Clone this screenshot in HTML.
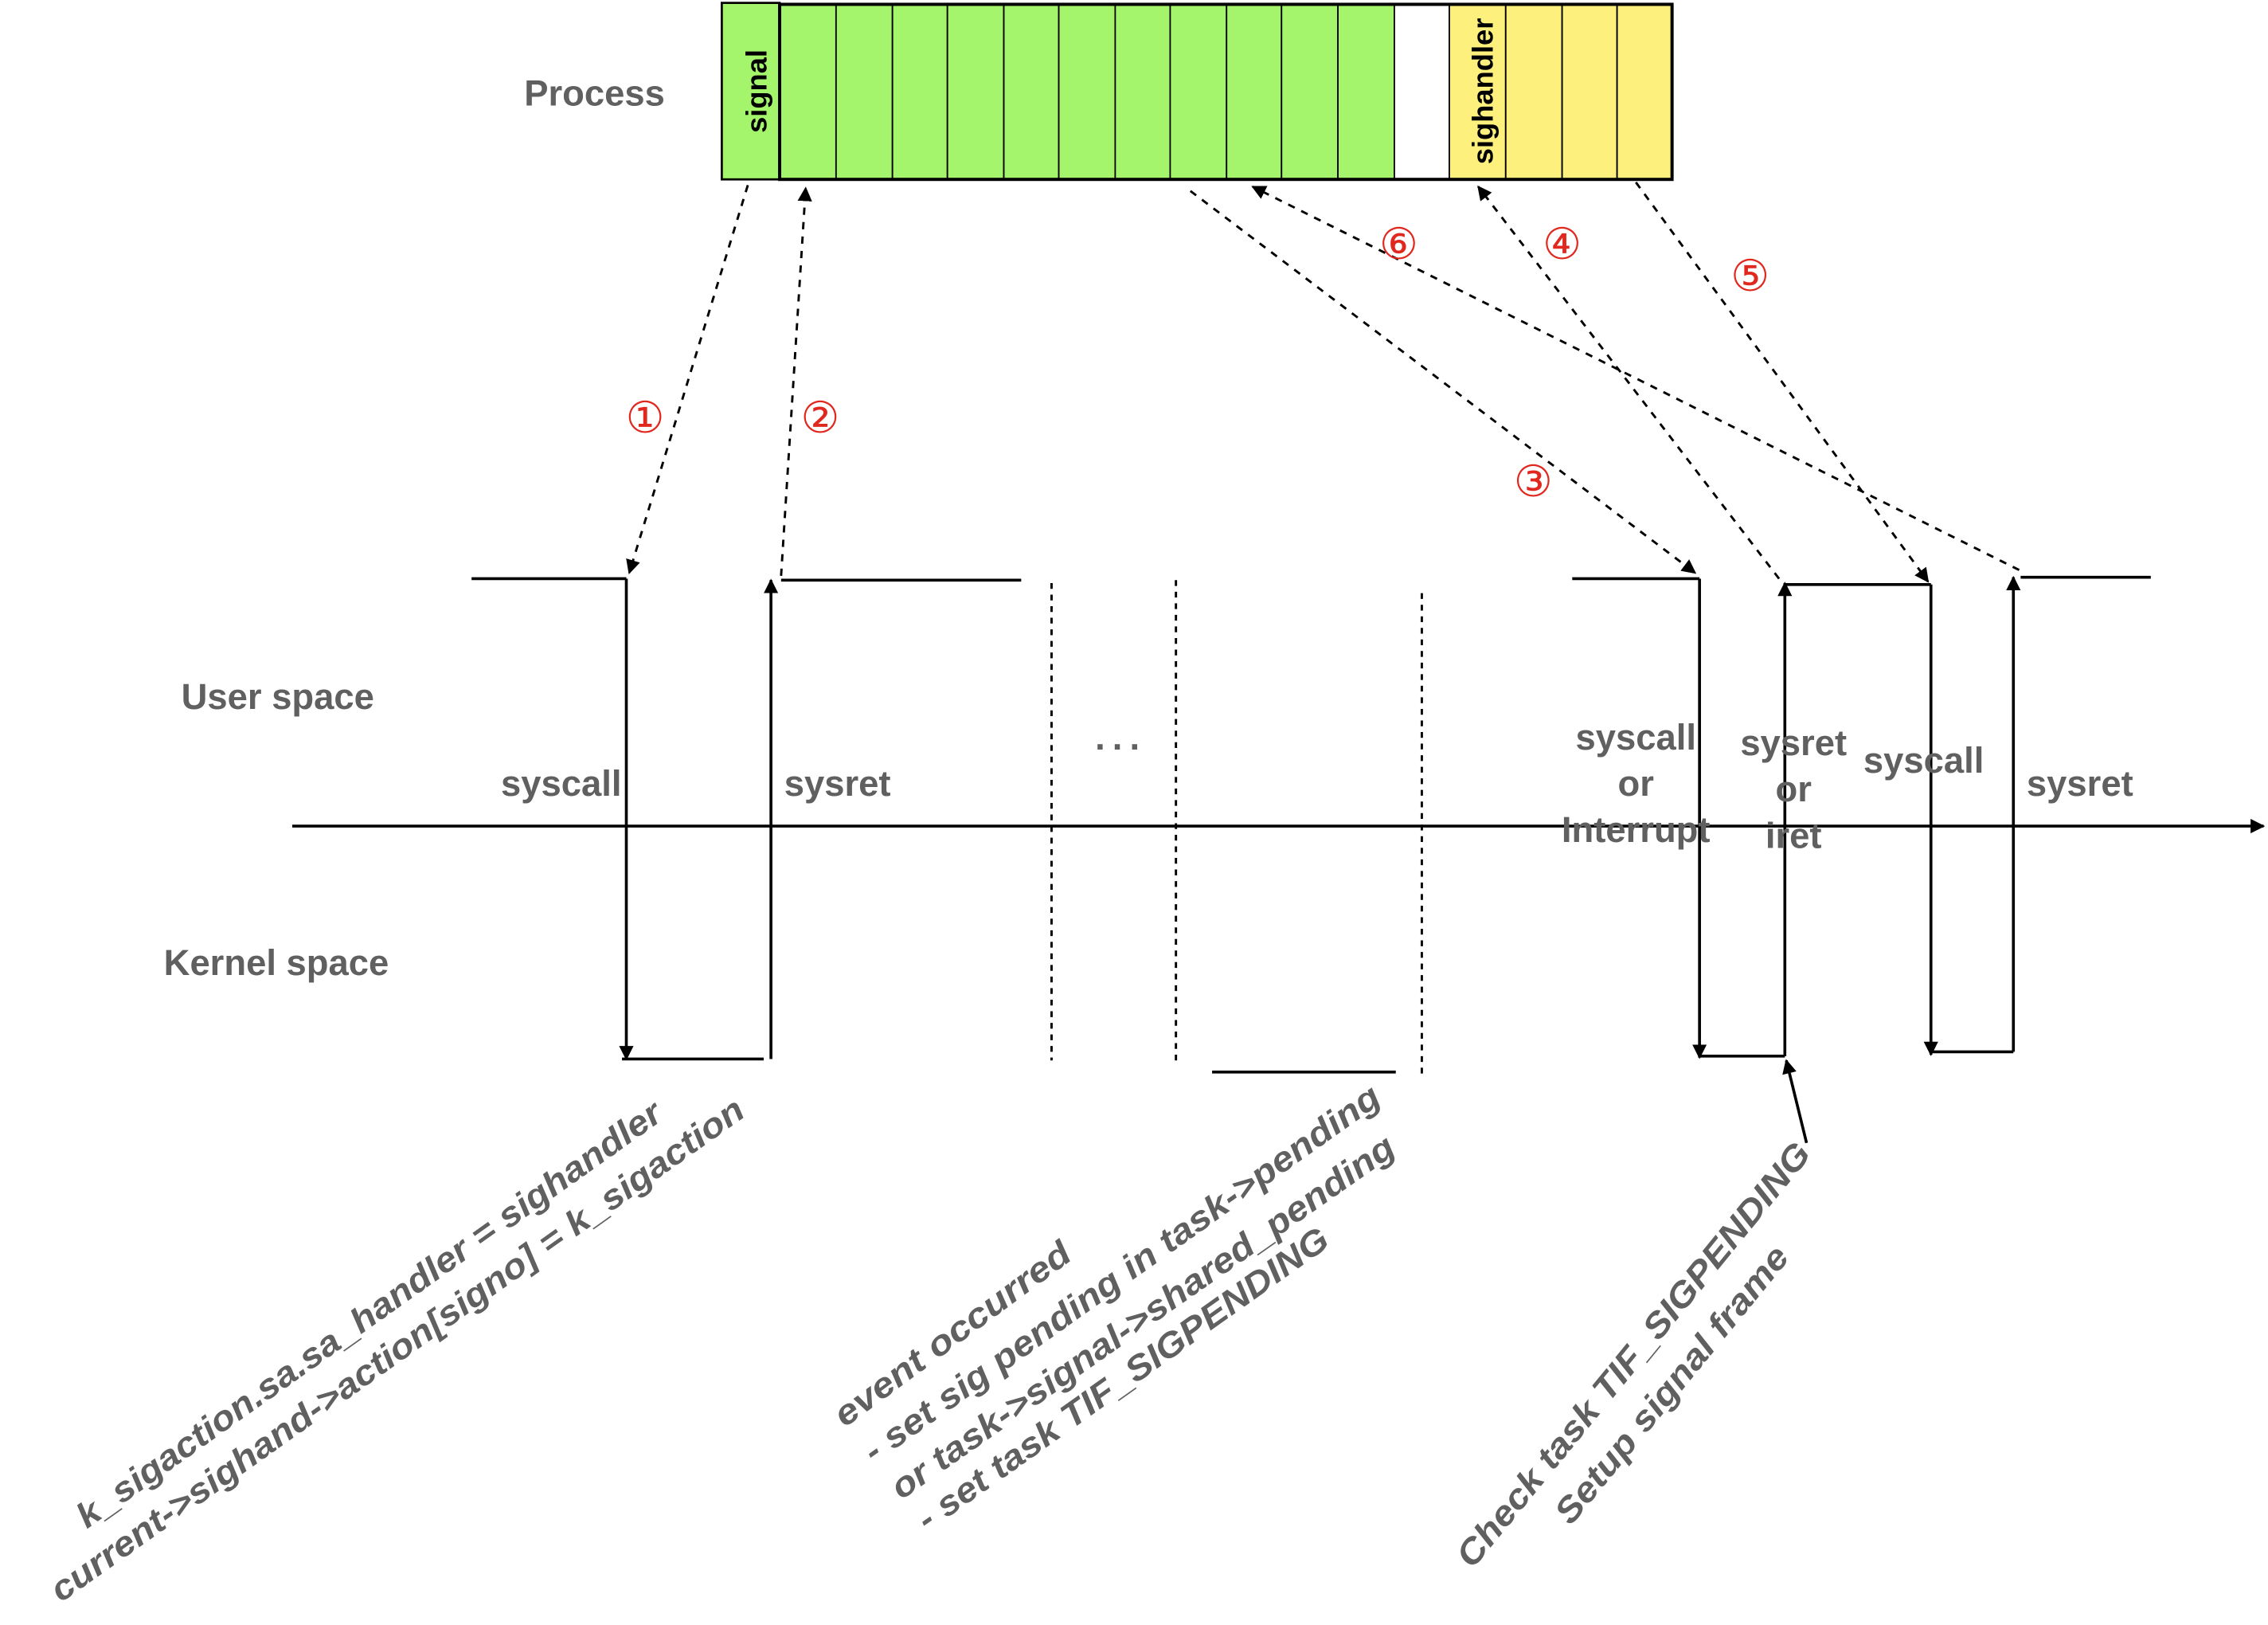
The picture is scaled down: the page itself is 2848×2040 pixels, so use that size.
<!DOCTYPE html>
<html><head><meta charset="utf-8"><style>
html,body{margin:0;padding:0;background:#fff;}
svg{display:block;}
text{font-family:"Liberation Sans",Arial,sans-serif;font-weight:bold;fill:#606060;}
.lbl{font-size:25px;}
.num{font-size:30px;fill:#e0281e;font-weight:normal;}
.rot{font-size:24px;font-style:italic;}
</style></head><body>
<svg width="2848" height="2040" viewBox="0 0 1568 1123.2" xmlns="http://www.w3.org/2000/svg">
<defs>
<marker id="ah" markerWidth="10" markerHeight="10" refX="9" refY="5" orient="auto" markerUnits="userSpaceOnUse" viewBox="0 0 10 10"><path d="M0,0 L10,5 L0,10 z" fill="#000"/></marker>
</defs>
<text x="411" y="73" class="lbl" text-anchor="middle">Process</text>
<g id="cells"></g>
<text x="530" y="63" class="lbl" style="font-size:20px;fill:#000" text-anchor="middle" transform="rotate(-90 530 63)">signal</text>
<text x="1032" y="63" class="lbl" style="font-size:20px;fill:#000" text-anchor="middle" transform="rotate(-90 1032 63)">sighandler</text>

<line x1="202" y1="571" x2="1565" y2="571" stroke="#000" stroke-width="2" marker-end="url(#ah)"/>

<g stroke="#000" stroke-width="2" fill="none">
<line x1="326" y1="400" x2="433" y2="400"/>
<line x1="433" y1="400" x2="433" y2="732" marker-end="url(#ah)"/>
<line x1="430" y1="732" x2="528" y2="732"/>
<line x1="533" y1="732" x2="533" y2="401" marker-end="url(#ah)"/>
<line x1="540" y1="401" x2="706" y2="401"/>
<line x1="838" y1="741" x2="965" y2="741"/>
<line x1="1087" y1="400" x2="1175" y2="400"/>
<line x1="1175" y1="400" x2="1175" y2="731" marker-end="url(#ah)"/>
<line x1="1175" y1="730" x2="1234" y2="730"/>
<line x1="1234" y1="730" x2="1234" y2="403" marker-end="url(#ah)"/>
<line x1="1234" y1="404" x2="1335" y2="404"/>
<line x1="1335" y1="404" x2="1335" y2="729" marker-end="url(#ah)"/>
<line x1="1335" y1="727" x2="1392" y2="727"/>
<line x1="1392" y1="727" x2="1392" y2="399" marker-end="url(#ah)"/>
<line x1="1397" y1="399" x2="1487" y2="399"/>
<line x1="1249" y1="790" x2="1235" y2="733" marker-end="url(#ah)"/>
</g>
<g stroke="#000" stroke-width="1.6" stroke-dasharray="4,4">
<line x1="727" y1="403" x2="727" y2="733"/>
<line x1="813" y1="401" x2="813" y2="733"/>
<line x1="983" y1="410" x2="983" y2="742"/>
</g>
<g stroke="#000" stroke-width="1.6" stroke-dasharray="5,5" fill="none">
<line x1="517" y1="128" x2="435" y2="396" marker-end="url(#ah)"/>
<line x1="540" y1="398" x2="557" y2="130" marker-end="url(#ah)"/>
<line x1="823" y1="132" x2="1172" y2="396" marker-end="url(#ah)"/>
<line x1="1396" y1="394" x2="866" y2="129" marker-end="url(#ah)"/>
<line x1="1230" y1="400" x2="1022" y2="129" marker-end="url(#ah)"/>
<line x1="1131" y1="126" x2="1333" y2="402" marker-end="url(#ah)"/>
</g>
<text x="446" y="299" class="num" text-anchor="middle">①</text>
<text x="567" y="299" class="num" text-anchor="middle">②</text>
<text x="1060" y="343" class="num" text-anchor="middle">③</text>
<text x="1080" y="179" class="num" text-anchor="middle">④</text>
<text x="1210" y="201" class="num" text-anchor="middle">⑤</text>
<text x="967" y="179" class="num" text-anchor="middle">⑥</text>

<text x="192" y="490" class="lbl" text-anchor="middle">User space</text>
<text x="191" y="674" class="lbl" text-anchor="middle">Kernel space</text>
<text x="388" y="550" class="lbl" text-anchor="middle">syscall</text>
<text x="579" y="550" class="lbl" text-anchor="middle">sysret</text>
<text x="775" y="518" class="lbl" text-anchor="middle" style="letter-spacing:5px">...</text>
<text class="lbl" text-anchor="middle"><tspan x="1131" y="518">syscall</tspan><tspan x="1131" y="550">or</tspan><tspan x="1131" y="582">Interrupt</tspan></text>
<text class="lbl" text-anchor="middle"><tspan x="1240" y="522">sysret</tspan><tspan x="1240" y="554">or</tspan><tspan x="1240" y="586">iret</tspan></text>
<text x="1330" y="534" class="lbl" text-anchor="middle">syscall</text>
<text x="1438" y="550" class="lbl" text-anchor="middle">sysret</text>

<g>
<text class="rot" x="0" y="0" textLength="490" lengthAdjust="spacingAndGlyphs" transform="translate(60,1057) rotate(-35.4)">k_sigaction.sa.sa_handler = sighandler</text>
<text class="rot" x="0" y="0" textLength="582" lengthAdjust="spacingAndGlyphs" transform="translate(42,1108) rotate(-35.4)">current-&gt;sighand-&gt;action[signo] = k_sigaction</text>
</g>
<g>
<text class="rot" x="0" y="0" textLength="197" lengthAdjust="spacingAndGlyphs" transform="translate(584,987) rotate(-36.5)">event occurred</text>
<text class="rot" x="0" y="0" textLength="432" lengthAdjust="spacingAndGlyphs" transform="translate(604,1012) rotate(-35.4)">- set sig pending in task-&gt;pending</text>
<text class="rot" x="0" y="0" textLength="419" lengthAdjust="spacingAndGlyphs" transform="translate(623,1037) rotate(-35)">or task-&gt;signal-&gt;shared_pending</text>
<text class="rot" x="0" y="0" textLength="343" lengthAdjust="spacingAndGlyphs" transform="translate(641,1059) rotate(-35.4)">- set task TIF_SIGPENDING</text>
</g>
<g>
<text class="rot" x="0" y="0" textLength="371" lengthAdjust="spacingAndGlyphs" transform="translate(1018,1085) rotate(-50.7)">Check task TIF_SIGPENDING</text>
<text class="rot" x="0" y="0" textLength="240" lengthAdjust="spacingAndGlyphs" transform="translate(1086,1055) rotate(-50.7)">Setup signal frame</text>
</g>
</svg>
<script>
const cellEdges=[539,578,617,655,694,732,771,809,848,886,925,964,1002,1041,1080,1118,1156];
const cellKinds=['g','g','g','g','g','g','g','g','g','g','g','w','y','y','y','y'];
const colors={g:'#a5f56c',w:'#ffffff',y:'#fdf07c'};
const ns='http://www.w3.org/2000/svg';
const g=document.getElementById('cells');
const sig=document.createElementNS(ns,'rect');
sig.setAttribute('x',499);sig.setAttribute('y',2);sig.setAttribute('width',40);sig.setAttribute('height',122);
sig.setAttribute('fill','#a5f56c');sig.setAttribute('stroke','#000');sig.setAttribute('stroke-width','1.5');


g.appendChild(sig);
for(let i=0;i<cellKinds.length;i++){
  const r=document.createElementNS(ns,'rect');
  r.setAttribute('x',cellEdges[i]);r.setAttribute('y',3);
  r.setAttribute('width',cellEdges[i+1]-cellEdges[i]);r.setAttribute('height',121);
  r.setAttribute('fill',colors[cellKinds[i]]);r.setAttribute('stroke','#000');r.setAttribute('stroke-width','1');
  
  
  g.appendChild(r);
}
const b=document.createElementNS(ns,'rect');
b.setAttribute('x',539);b.setAttribute('y',3);b.setAttribute('width',617);b.setAttribute('height',121);
b.setAttribute('fill','none');b.setAttribute('stroke','#000');b.setAttribute('stroke-width','2.2');


g.appendChild(b);
</script>
</body></html>
